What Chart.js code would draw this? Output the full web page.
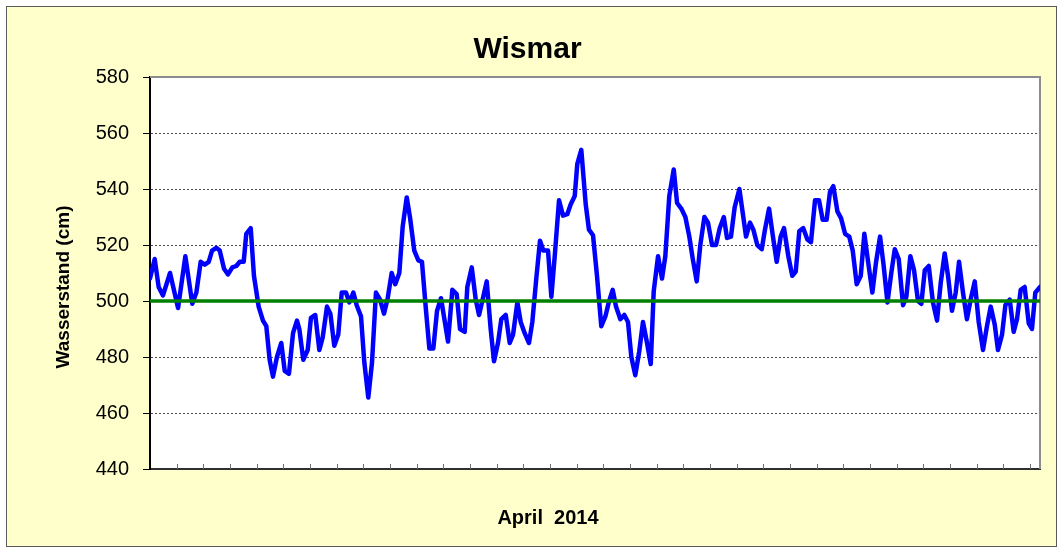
<!DOCTYPE html>
<html>
<head>
<meta charset="utf-8">
<script src="https://cdn.jsdelivr.net/npm/chart.js@4.4.1/dist/chart.umd.min.js"></script>
<style>
    body { margin: 0; background: #ffffff; }
    #wrap { width: 1062px; height: 550px; }
</style>
</head>
<body>
<div id="wrap"><canvas id="pegelChart" width="1062" height="550"></canvas></div>
<script>
// Stunden seit 1. April 00:00 (gelesen aus der Grafik)
const hours = [
    0, 3.8, 7.0, 10.5, 16.2, 22.7, 28.6, 34.2, 37.5, 41.0,
    44.3, 47.5, 50.2, 53.6, 56.4, 59.9, 63.1, 66.6, 69.8, 72.6,
    75.8, 77.9, 81.5, 84.1, 87.9, 91.4, 94.1, 96.8, 99.5, 102.7,
    106.2, 109.0, 112.4, 115.7, 118.9, 120.8, 124.0, 127.6, 130.2, 133.7,
    137.0, 139.7, 143.2, 145.9, 149.1, 152.3, 155.1, 158.6, 161.2, 164.5,
    167.2, 170.7, 173.4, 176.6, 179.6, 182.8, 186.1, 189.3, 192.3, 195.5,
    198.4, 201.7, 204.4, 207.7, 210.3, 213.8, 217.1, 220.0, 223.3, 226.0,
    229.2, 232.2, 235.4, 241.1, 244.6, 248.1, 250.8, 254.6, 256.7, 260.3,
    263.5, 266.2, 269.6, 272.4, 275.6, 278.3, 281.5, 284.2, 287.8, 291.0,
    293.7, 297.2, 299.9, 303.1, 306.6, 309.3, 312.5, 315.5, 318.2, 322.0,
    324.7, 327.6, 330.9, 334.1, 337.6, 340.3, 343.6, 345.7, 348.9, 352.5,
    355.1, 358.4, 361.6, 365.1, 368.4, 371.1, 374.3, 377.0, 380.5, 383.7,
    386.7, 389.4, 392.6, 395.8, 398.8, 402.1, 405.1, 407.5, 411.0, 414.2,
    416.9, 420.1, 423.7, 426.4, 429.8, 433.1, 436.3, 439.1, 442.3, 445.2,
    448.5, 451.4, 454.7, 457.9, 460.9, 464.2, 466.8, 470.0, 473.0, 476.8,
    482.2, 485.4, 488.1, 491.3, 494.9, 497.5, 500.8, 503.8, 507.0, 510.2,
    512.9, 516.4, 519.6, 522.4, 525.3, 528.5, 531.8, 534.7, 538.0, 541.2,
    544.2, 547.4, 550.1, 552.8, 556.1, 559.1, 562.3, 565.7, 568.5, 571.7,
    575.0, 577.9, 581.1, 584.4, 587.4, 590.6, 593.3, 596.6, 599.7, 602.5,
    605.7, 609.2, 611.9, 615.1, 618.1, 621.3, 624.0, 626.8, 630.0, 633.4,
    636.7, 639.7, 642.9, 645.6, 648.8, 651.8, 654.5, 657.7, 660.9, 663.9,
    667.2, 670.4, 673.9, 677.1, 680.1, 683.4, 686.0, 689.3, 692.0, 695.5,
    698.7, 701.4, 704.4, 707.6, 710.9, 713.5, 716.2, 720
];

// Wasserstand in cm
const levels = [
    508, 515, 505, 502, 510, 497.5, 516, 499, 503, 514,
    513, 514, 518, 519, 518, 511.5, 509.5, 512, 512.5, 514,
    514, 524, 526, 509, 498, 493, 491, 479, 473, 480,
    485, 475, 474, 488.5, 493, 490, 479, 482.5, 494, 495,
    482.5, 487, 498, 495.5, 484, 488, 503, 503, 499.5, 503,
    498.5, 494.5, 478, 465.5, 478, 503, 500.5, 495.5, 501, 510,
    506, 510, 526.5, 537, 530, 518, 514.5, 514, 496.5, 483,
    483, 496.5, 501, 485.5, 504, 502.5, 490, 489, 505, 512,
    500.5, 495, 501.5, 507, 490, 478.5, 485, 493.5, 495, 485,
    488, 499.5, 492.5, 488.5, 485, 492.5, 508, 521.5, 518, 518,
    501.5, 517, 536, 530.5, 531, 534.5, 537.5, 549, 554, 534.5,
    525.5, 523.5, 509, 491, 494.5, 499.5, 504, 498, 493.5, 495,
    492.5, 480, 473.5, 482, 492.5, 485, 477.5, 503.5, 516, 508,
    516, 537.5, 547, 535, 533, 530, 523, 515, 507, 520,
    530, 528, 520, 520, 526, 530, 522.5, 523, 533.5, 540,
    523, 528, 525.5, 520, 518.5, 525.5, 533, 523.5, 514, 523,
    526, 516, 509, 510.5, 525, 526, 522, 521, 536, 536,
    529, 529, 539, 541, 532, 529.5, 524, 523, 518, 506,
    509, 524, 513.5, 503, 514, 523, 513.5, 499.5, 510, 518.5,
    515, 498.5, 501.5, 516, 511, 500, 499, 511, 512.5, 499.5,
    493, 506.5, 517, 509, 496.5, 503, 514, 503, 493.5, 500.5,
    507, 492.5, 482.5, 491, 498, 491.5, 482.5, 488, 498.5, 500.5,
    489, 493.5, 504, 505, 492, 490, 503, 505
];

const meanLevel = 500;
const monthHours = 720;
const tickCount = 33.375;   // Abstand der Teilstriche auf der Zeitachse
const yMin = 440;
const yMax = 580;
const yStep = 20;

const FONT = "'Liberation Sans', Arial, sans-serif";

const waterData = hours.map((h, i) => ({ x: h, y: levels[i] }));
const meanData = [{ x: 0, y: meanLevel }, { x: monthHours, y: meanLevel }];

const frame = {
    id: "frame",
    beforeDraw(chart) {
        const ctx = chart.ctx;
        const a = chart.chartArea;
        ctx.save();
        ctx.fillStyle = "#ffffff";
        ctx.fillRect(0, 0, chart.width, chart.height);
        ctx.fillStyle = "#ffffcc";
        ctx.fillRect(6, 6, 1051, 541);
        ctx.strokeStyle = "#5a5a5a";
        ctx.lineWidth = 1;
        ctx.strokeRect(6.5, 6.5, 1050, 540);
        ctx.fillStyle = "#ffffff";
        ctx.fillRect(a.left, a.top, a.right - a.left, a.bottom - a.top);
        ctx.restore();
    },
    beforeDatasetsDraw(chart) {
        const ctx = chart.ctx;
        const a = chart.chartArea;
        ctx.save();
        ctx.strokeStyle = "#8c8c8c";
        ctx.lineWidth = 2;
        ctx.beginPath();
        ctx.moveTo(a.left, a.top);
        ctx.lineTo(a.right, a.top);
        ctx.lineTo(a.right, a.bottom);
        ctx.stroke();
        // kleine Teilstriche nach innen
        const xs = chart.scales.x;
        ctx.strokeStyle = "#707070";
        ctx.lineWidth = 1;
        xs.ticks.forEach(t => {
            const px = Math.round(xs.getPixelForValue(t.value)) + 0.5;
            if (px <= a.left + 2 || px >= a.right - 2) return;
            ctx.beginPath();
            ctx.moveTo(px, a.bottom);
            ctx.lineTo(px, a.bottom - 5);
            ctx.stroke();
        });
        ctx.restore();
    },
    afterDraw(chart) {
        const ctx = chart.ctx;
        ctx.save();
        ctx.fillStyle = "#000000";
        ctx.font = "bold 20px " + FONT;
        ctx.textAlign = "center";
        ctx.textBaseline = "middle";
        ctx.fillText("April  2014", 548, 518);
        ctx.font = "bold 19px " + FONT;
        ctx.translate(64, 287);
        ctx.rotate(-Math.PI / 2);
        ctx.fillText("Wasserstand (cm)", 0, 0);
        ctx.restore();
    }
};

new Chart(document.getElementById("pegelChart"), {
    type: "line",
    data: {
        datasets: [
            {
                label: "Mittelwasser",
                data: meanData,
                borderColor: "#008000",
                borderWidth: 3.5,
                pointRadius: 0,
                order: 0
            },
            {
                label: "Wasserstand",
                data: waterData,
                borderColor: "#0000ff",
                borderWidth: 4.5,
                pointRadius: 0,
                tension: 0,
                borderJoinStyle: "round",
                borderCapStyle: "round",
                order: 1
            }
        ]
    },
    plugins: [frame],
    options: {
        responsive: false,
        animation: false,
        events: [],
        layout: { padding: { left: 15, right: 22, top: 0, bottom: 0 } },
        plugins: {
            legend: { display: false },
            tooltip: { enabled: false },
            title: {
                display: true,
                text: "Wismar",
                color: "#000000",
                font: { family: FONT, size: 30, weight: "bold" },
                padding: { top: 32, bottom: 9 }
            }
        },
        scales: {
            x: {
                type: "linear",
                min: 0,
                max: monthHours,
                afterBuildTicks(scale) {
                    const step = monthHours / tickCount;
                    const ticks = [];
                    for (let v = 0; v <= monthHours + 0.01; v += step) ticks.push({ value: v });
                    scale.ticks = ticks;
                },
                afterFit(scale) { scale.height = 81; },
                ticks: { display: false },
                grid: { display: false },
                border: { display: true, color: "#303030", width: 2 }
            },
            y: {
                min: yMin,
                max: yMax,
                afterFit(scale) { scale.width = 135; },
                ticks: {
                    stepSize: yStep,
                    color: "#000000",
                    padding: 14,
                    font: { family: FONT, size: 20 }
                },
                grid: {
                    color: "#505050",
                    lineWidth: 1,
                    tickLength: 7,
                    tickColor: "#000000",
                    tickBorderDash: []
                },
                border: { display: true, color: "#000000", width: 2, dash: [2, 2] }
            }
        }
    }
});
</script>
</body>
</html>
